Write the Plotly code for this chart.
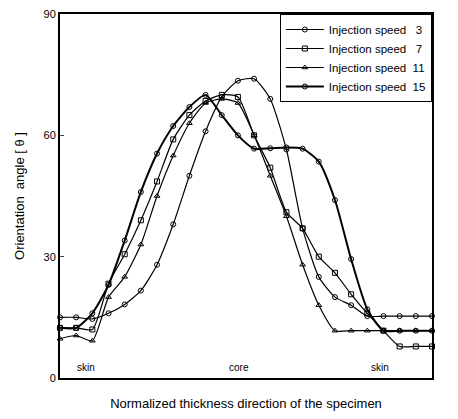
import plotly.graph_objects as go

# normalized thickness positions (24 measuring points across the specimen)
positions = [i / 23 for i in range(24)]

speed_labels = ["Injection\u00a0speed\u00a0\u00a0\u00a03",
                "Injection\u00a0speed\u00a0\u00a0\u00a07",
                "Injection\u00a0speed\u00a0\u00a011",
                "Injection\u00a0speed\u00a0\u00a015"]

speed3 = [15, 15, 14.6, 16, 18.2, 21.6, 28, 38, 50, 61, 69.5, 73.5,
          74, 69, 56.5, 37, 25, 20, 18, 15.3, 15.3, 15.3, 15.3, 15.3]
speed7 = [12.4, 12.4, 12, 23.3, 30.6, 39, 48.6, 59, 65, 68.5, 70, 69.5,
          60, 52, 41, 37, 30, 26, 20.7, 16, 11.7, 7.8, 7.8, 7.8]
speed11 = [9.7, 10.5, 9.2, 20, 25, 33, 45, 55, 63, 68, 69, 68,
           60, 50, 40, 28, 18, 11.7, 11.7, 11.7, 11.7, 11.7, 11.7, 11.7]
speed15 = [12.4, 12.4, 16, 23, 34, 46, 55.5, 62.3, 67, 70, 65, 60,
           56.7, 56.8, 57, 56.7, 53.5, 44, 29.4, 17, 11.7, 11.7, 11.7, 11.7]

series = [speed3, speed7, speed11, speed15]
symbols = ["circle-open", "square-open", "triangle-up-open", "circle-open"]
widths = [1.2, 1.2, 1.2, 2.0]
msizes = [5, 5, 5, 5]

region_labels = ["skin", "core", "skin"]
region_pos = [0.07, 0.48, 0.86]

fig = go.Figure()
for name, vals, sym, w, ms in zip(speed_labels, series, symbols, widths, msizes):
    fig.add_trace(go.Scatter(
        x=positions, y=vals, name=name, mode="lines+markers",
        line=dict(color="black", width=w, shape="spline", smoothing=0.6),
        marker=dict(symbol=sym, size=ms, color="black",
                    line=dict(color="black", width=1)),
        cliponaxis=False,
    ))

for lab, xp in zip(region_labels, region_pos):
    fig.add_annotation(x=xp, y=2.5, xref="x", yref="y", text=lab,
                       showarrow=False, font=dict(size=10, color="black"))

fig.update_layout(
    width=458, height=419,
    margin=dict(l=60, r=26, t=8, b=41),
    paper_bgcolor="white", plot_bgcolor="white",
    font=dict(family="Liberation Sans, Arial, sans-serif", color="black", size=11),
    showlegend=True,
    legend=dict(x=0.591, y=1.0, xanchor="left", yanchor="top",
                bgcolor="white", bordercolor="black", borderwidth=1,
                font=dict(size=11.5), tracegroupgap=0,
                itemwidth=38),
    xaxis=dict(range=[0, 1], showticklabels=False, ticks="", showgrid=False,
               zeroline=False, showline=True, linecolor="black", linewidth=2,
               mirror=True,
               title=dict(text="Normalized thickness direction of the specimen",
                          font=dict(size=13), standoff=20)),
    yaxis=dict(range=[0, 90], tickvals=[0, 30, 60, 90], ticks="inside",
               ticklen=4, showgrid=False, zeroline=False, showline=True,
               linecolor="black", linewidth=2, mirror=True,
               tickfont=dict(size=11),
               title=dict(text="Orientation  angle [ \u03b8 ]",
                          font=dict(size=13), standoff=16)),
)

fig.write_html("out.html")
